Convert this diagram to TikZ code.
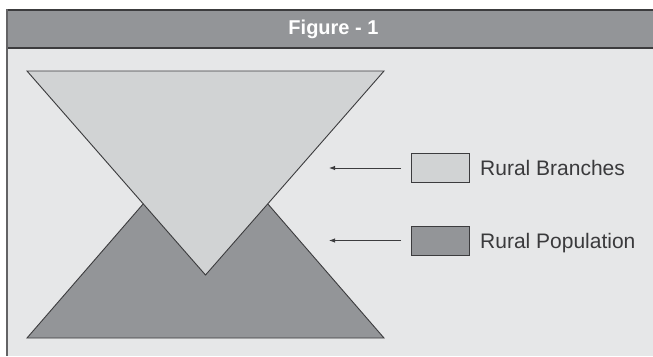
\documentclass[tikz,border=0pt]{standalone}
\usepackage{fontspec}
\setmainfont{Liberation Sans}
\usetikzlibrary{arrows.meta}
\definecolor{hdr}{HTML}{939598}
\definecolor{bg}{HTML}{E6E7E8}
\definecolor{lighttri}{HTML}{D1D3D4}
\definecolor{darktri}{HTML}{939598}
\definecolor{edge}{HTML}{3C3C3E}
\definecolor{txt}{HTML}{3A3A3C}
\tikzset{
  tri/.style={draw=edge, line width=0.9pt, line join=miter},
  legbox/.style={draw=edge, line width=1pt, minimum width=58pt, minimum height=29pt, inner sep=0pt},
  legtxt/.style={text=txt, font=\fontsize{21}{24}\selectfont, anchor=base west, inner sep=0pt},
  pointer/.style={draw=edge, line width=0.9pt, -{Latex[length=6pt,width=4.5pt]}}
}
\begin{document}
\begin{tikzpicture}[x=1pt,y=-1pt]
\useasboundingbox (0,0) rectangle (653,356);
\fill[white] (0,0) rectangle (653,356);
% background and header
\fill[bg] (7,48) rectangle (653,356);
\fill[hdr] (7,10) rectangle (653,48);
\draw[edge, line width=1.5pt] (7,10) -- (653,10);
\draw[edge, line width=2pt] (7,48) -- (653,48);
\draw[edge!80, line width=2pt] (7,9.25) -- (7,356);
\node[text=white, font=\bfseries\fontsize{20}{24}\selectfont, inner sep=0pt] (title) at (333.5,29) {Figure - 1};
% triangles
\draw[tri, fill=darktri] (27,338) -- (384,338) -- (205.5,132) -- cycle;
\draw[tri, fill=lighttri] (27,71) -- (384,71) -- (205.5,275) -- cycle;
% legend
\node[legbox, fill=lighttri] (b1) at (440,168) {};
\node[legbox, fill=darktri] (b2) at (440,240.5) {};
\node[legtxt] (t1) at (480,175.7) {Rural Branches};
\node[legtxt] (t2) at (480,248.2) {Rural Population};
\coordinate (p1) at (329,168);
\coordinate (p2) at (329,240.5);
\draw[pointer, shorten <=9.3pt] (b1.west) -- (p1);
\draw[pointer, shorten <=9.3pt] (b2.west) -- (p2);
\end{tikzpicture}
\end{document}
